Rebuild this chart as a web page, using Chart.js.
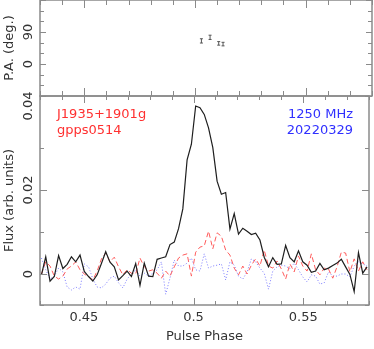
<!DOCTYPE html>
<html>
<head>
<meta charset="utf-8">
<script src="https://cdn.jsdelivr.net/npm/chart.js@4.4.0/dist/chart.umd.min.js"></script>
<style>
  html, body { margin: 0; padding: 0; background: #fff; }
  #wrap { position: relative; width: 374px; height: 349px; }
  #wrap canvas { position: absolute; left: 0; top: 0; }
</style>
</head>
<body>
<div id="wrap">
  <canvas id="profileChart" width="374" height="349"></canvas>
  <canvas id="paChart" width="374" height="349"></canvas>
</div>
<script>
// profile: 512 bins per period, first plotted bin below
const nBins = 512;
const firstBin = 220;

// total intensity (black), bins 220..296
const totalFlux = [
  -0.0002, 0.0041, -0.0017, -0.0006, 0.0044, 0.0013, 0.0023, 0.0041, 0.0029, 0.0045,
  0.0006, -0.0006, -0.0017, -0.0002, 0.0025, 0.0053, 0.0028, 0.0017, -0.0014, -0.0004,
  0.0007, -0.0006, 0.0025, -0.0027, 0.0026, -0.0005, -0.0006, 0.0035, 0.0038, 0.0041,
  0.0070, 0.0076, 0.0108, 0.0155, 0.0272, 0.0309, 0.0400, 0.0396, 0.0380, 0.0348,
  0.0301, 0.0221, 0.0190, 0.0194, 0.0107, 0.0144, 0.0095, 0.0109, 0.0102, 0.0094,
  0.0097, 0.0081, 0.0040, 0.0017, 0.0039, 0.0023, 0.0024, 0.0068, 0.0039, 0.0029,
  0.0055, 0.0029, 0.0021, 0.0004, 0.0007, 0.0025, 0.0010, 0.0014, 0.0020, 0.0026,
  0.0035, 0.0017, -0.0001, -0.0042, 0.0051, 0.0002, 0.0017
];

// linear polarisation (red dashed)
const linearFlux = [
  0.0000, 0.0029, 0.0019, -0.0005, -0.0012, -0.0005, 0.0012, 0.0019, 0.0029, 0.0010,
  0.0000, -0.0007, -0.0014, 0.0007, 0.0036, 0.0050, 0.0029, 0.0040, 0.0017, -0.0002,
  0.0010, 0.0002, 0.0000, 0.0038, 0.0017, 0.0007, 0.0010, 0.0002, -0.0010, 0.0007,
  -0.0005, 0.0017, 0.0038, 0.0045, 0.0048, -0.0005, 0.0052, 0.0064, 0.0067, 0.0102,
  0.0060, 0.0098, 0.0090, 0.0057, 0.0045, 0.0014, -0.0002, 0.0019, 0.0000, 0.0021,
  0.0036, 0.0019, 0.0057, 0.0019, 0.0014, 0.0031, 0.0012, -0.0012, 0.0024, 0.0005,
  0.0043, 0.0019, 0.0007, 0.0048, 0.0010, -0.0002, 0.0014, 0.0012, -0.0010, 0.0017,
  0.0052, 0.0050, 0.0005, 0.0036, 0.0007, 0.0029, 0.0010
];

// circular polarisation (blue dotted)
const circularFlux = [
  0.0038, 0.0010, -0.0012, -0.0005, 0.0014, 0.0005, -0.0031, -0.0038, -0.0031, -0.0036,
  0.0024, 0.0017, -0.0012, -0.0031, -0.0033, -0.0024, -0.0010, -0.0005, -0.0021, -0.0033,
  -0.0012, 0.0000, 0.0010, -0.0005, 0.0002, -0.0005, 0.0002, 0.0010, 0.0029, -0.0048,
  -0.0010, 0.0033, 0.0019, 0.0019, 0.0026, 0.0038, 0.0010, 0.0007, 0.0048, 0.0014,
  0.0019, 0.0021, 0.0024, -0.0014, 0.0029, 0.0021, -0.0005, -0.0012, 0.0005, 0.0036,
  0.0029, 0.0014, 0.0002, -0.0036, 0.0007, 0.0017, 0.0021, 0.0019, 0.0012, 0.0026,
  0.0010, -0.0007, -0.0019, -0.0002, -0.0005, -0.0024, -0.0021, 0.0005, -0.0005, -0.0005,
  0.0000, 0.0000, -0.0007, 0.0019, 0.0029, 0.0024, 0.0019
];

// position angle points
const paBins = [257, 259, 261, 262];
const paDeg = [65, 75, 58, 56];
const paErr = [6, 6, 5, 5];

const phaseTicks = [0.45, 0.5, 0.55];
const fluxTicks = [0, 0.02, 0.04];
const paTicks = [0, 90];

const axisColor = '#333';
const frameColor = '#8a8a8a';
Chart.defaults.font.family = '"DejaVu Sans", sans-serif';
Chart.defaults.font.size = 13;
Chart.defaults.color = axisColor;

function binPhase(bin) {
    return (bin + 0.5) / nBins;
}

function toPoints(values) {
    return values.map((v, i) => ({ x: binPhase(firstBin + i), y: v }));
}

function isMajor(value, step) {
    const r = value / step;
    return Math.abs(r - Math.round(r)) < 1e-6;
}

// pgplot-like box: frame, inward ticks, rotated y labels, text notes
const framePlugin = {
    id: 'frame',
    afterDatasetsDraw(chart, args, opts) {
        const { ctx, chartArea: a } = chart;
        const x = chart.scales.x;
        const y = chart.scales.y;
        ctx.save();
        ctx.strokeStyle = frameColor;
        ctx.lineWidth = 1;
        ctx.beginPath();
        x.ticks.forEach(t => {
            const px = Math.round(x.getPixelForValue(t.value)) + 0.5;
            const len = isMajor(t.value, opts.xMajor) ? opts.xLen[0] : opts.xLen[1];
            ctx.moveTo(px, a.bottom); ctx.lineTo(px, a.bottom - len);
            ctx.moveTo(px, a.top); ctx.lineTo(px, a.top + len);
        });
        y.ticks.forEach(t => {
            const py = Math.round(y.getPixelForValue(t.value)) + 0.5;
            const len = isMajor(t.value, opts.yMajor) ? opts.yLen[0] : opts.yLen[1];
            ctx.moveTo(a.left, py); ctx.lineTo(a.left + len, py);
            ctx.moveTo(a.right, py); ctx.lineTo(a.right - len, py);
        });
        ctx.stroke();
        ctx.lineWidth = 1.5;
        ctx.strokeRect(a.left, a.top, a.right - a.left, a.bottom - a.top);

        ctx.fillStyle = axisColor;
        ctx.font = '13px "DejaVu Sans"';
        ctx.textAlign = 'center';
        ctx.textBaseline = 'alphabetic';
        opts.yLabels.forEach(v => {
            ctx.save();
            ctx.translate(opts.labelX, y.getPixelForValue(v));
            ctx.rotate(-Math.PI / 2);
            ctx.fillText(v === 0 ? '0' : String(v), 0, 0);
            ctx.restore();
        });

        (opts.notes || []).forEach(n => {
            ctx.fillStyle = n.color;
            ctx.textAlign = n.align;
            const nx = n.align === 'left' ? a.left + n.dx : a.right - n.dx;
            ctx.fillText(n.text, nx, a.top + n.dy);
        });
        ctx.restore();
    }
};

const hiddenGrid = { display: false, drawTicks: false };

// bottom panel: flux profile
new Chart(document.getElementById('profileChart'), {
    type: 'line',
    data: {
        datasets: [
            { label: 'I', data: toPoints(totalFlux), borderColor: '#1e1e1e', borderWidth: 1.2, pointRadius: 0, tension: 0 },
            { label: 'L', data: toPoints(linearFlux), borderColor: '#ff5c5c', borderWidth: 1, borderDash: [5, 3], pointRadius: 0, tension: 0 },
            { label: 'V', data: toPoints(circularFlux), borderColor: '#7a7aff', borderWidth: 1, borderDash: [1, 2], pointRadius: 0, tension: 0 }
        ]
    },
    options: {
        responsive: false,
        animation: false,
        events: [],
        layout: { autoPadding: false, padding: { top: 96, right: 2, left: 0, bottom: 0 } },
        plugins: {
            legend: { display: false },
            tooltip: { enabled: false },
            frame: {
                xMajor: 0.05, xLen: [7, 4],
                yMajor: 0.02, yLen: [7, 4],
                yLabels: fluxTicks, labelX: 32,
                notes: [
                    { text: 'J1935+1901g', color: '#ff3030', align: 'left', dx: 17, dy: 21.5 },
                    { text: 'gpps0514', color: '#ff3030', align: 'left', dx: 17, dy: 38 },
                    { text: '1250 MHz', color: '#3030ff', align: 'right', dx: 16, dy: 21.5 },
                    { text: '20220329', color: '#3030ff', align: 'right', dx: 16, dy: 38 }
                ]
            }
        },
        scales: {
            x: {
                type: 'linear', min: 0.43, max: 0.58,
                grid: hiddenGrid, border: { display: false },
                ticks: {
                    stepSize: 0.01, autoSkip: false, maxRotation: 0, padding: 5,
                    callback: v => phaseTicks.some(p => Math.abs(p - v) < 1e-6) ? String(Math.round(v * 100) / 100) : ''
                },
                title: { display: true, text: 'Pulse Phase', padding: { top: 0, bottom: 5 } },
                afterFit: s => { s.height = 44; }
            },
            y: {
                min: -0.00738, max: 0.04238,
                grid: hiddenGrid, border: { display: false },
                ticks: { display: false, stepSize: 0.01 },
                title: { display: true, text: 'Flux (arb. units)', padding: { top: 1.5, bottom: 0 } },
                afterFit: s => { s.width = 40; }
            }
        }
    },
    plugins: [framePlugin]
});

// top panel: position angle with error bars
const paPoints = [];
paBins.forEach((b, i) => {
    const ph = binPhase(b);
    paPoints.push({ x: ph, y: paDeg[i] - paErr[i] }, { x: ph, y: paDeg[i] + paErr[i] }, { x: ph, y: null });
});

new Chart(document.getElementById('paChart'), {
    type: 'line',
    data: {
        datasets: [{
            label: 'PA', data: paPoints, borderColor: '#555', borderWidth: 1,
            pointStyle: 'line', pointRadius: 1.5, pointBorderColor: '#555', pointBorderWidth: 1,
            spanGaps: false
        }]
    },
    options: {
        responsive: false,
        animation: false,
        events: [],
        layout: { autoPadding: false, padding: { top: 0, right: 2, left: 0, bottom: 0 } },
        plugins: {
            legend: { display: false },
            tooltip: { enabled: false },
            frame: {
                xMajor: 0.05, xLen: [8, 5],
                yMajor: 90, yLen: [6, 4],
                yLabels: paTicks, labelX: 32
            }
        },
        scales: {
            x: {
                type: 'linear', min: 0.43, max: 0.58,
                grid: hiddenGrid, border: { display: false },
                ticks: { display: false, stepSize: 0.01 },
                afterFit: s => { s.height = 253; }
            },
            y: {
                min: -90, max: 180,
                grid: hiddenGrid, border: { display: false },
                ticks: { display: false, stepSize: 30 },
                title: { display: true, text: 'P.A. (deg.)', padding: { top: 1.5, bottom: 0 } },
                afterFit: s => { s.width = 40; }
            }
        }
    },
    plugins: [framePlugin]
});
</script>
</body>
</html>
